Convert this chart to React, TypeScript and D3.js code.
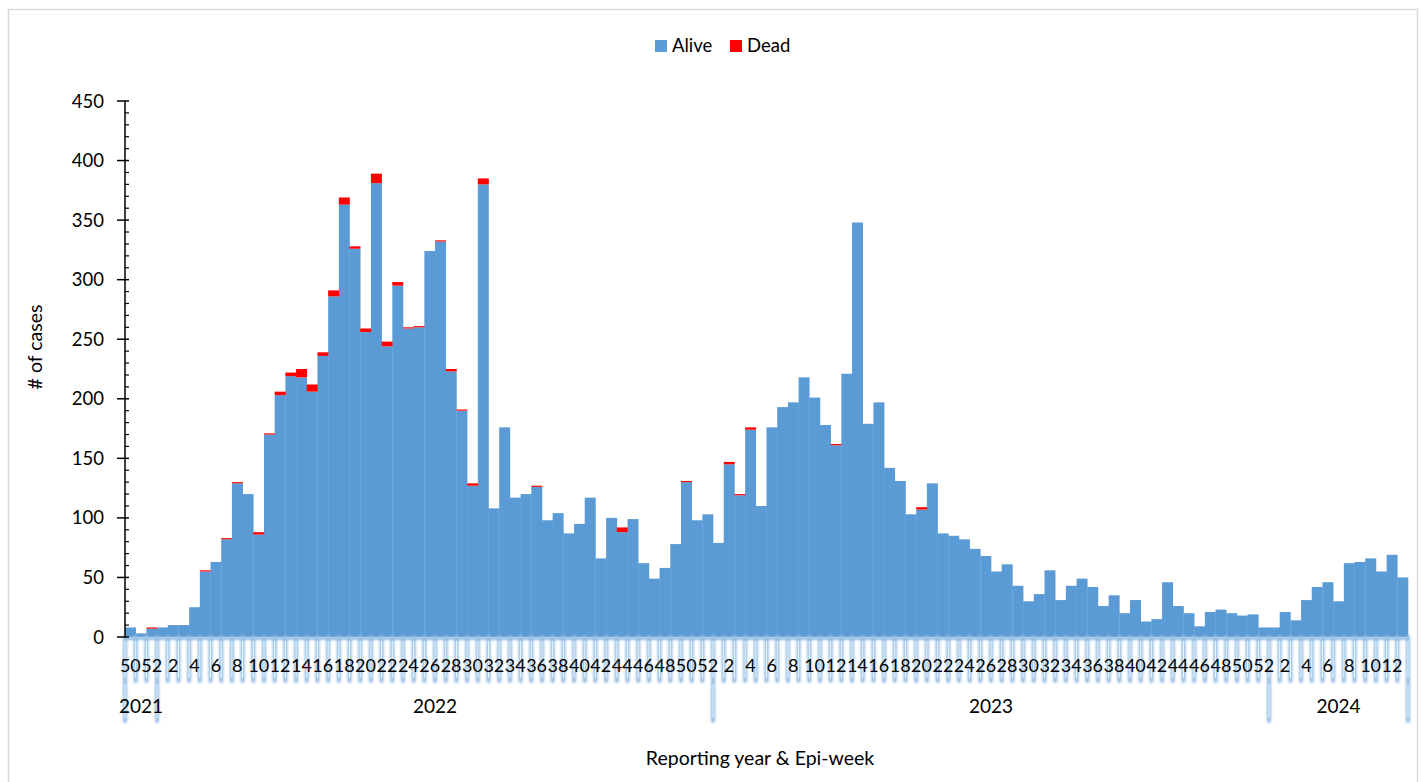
import React from "react";
import * as d3 from "d3";

const years = ["2021", "2022", "2023", "2024"];
const yearWeeks = [
  [50, 51, 52],
  d3.range(1, 53),
  d3.range(1, 53),
  d3.range(1, 14),
];

const alive2021 = [8, 3, 7];
const dead2021 = [0, 0, 1];

const alive2022 = [
  8, 10, 10, 25, 55, 63, 82, 129, 120, 86, 170, 203, 219, 218, 206, 236, 286, 363, 326, 256,
  381, 244, 295, 259, 260, 324, 332, 223, 190, 127, 380, 108, 176, 117, 120, 126, 98, 104, 87, 95,
  117, 66, 100, 88, 99, 62, 49, 58, 78, 130, 98, 103,
];
const dead2022 = [
  0, 0, 0, 0, 1, 0, 1, 1, 0, 2, 1, 3, 3, 7, 6, 3, 5, 6, 2, 3,
  8, 4, 3, 1, 1, 0, 1, 2, 1, 2, 5, 0, 0, 0, 0, 1, 0, 0, 0, 0,
  0, 0, 0, 4, 0, 0, 0, 0, 0, 1, 0, 0,
];

const alive2023 = [
  79, 145, 119, 174, 110, 176, 193, 197, 218, 201, 178, 161, 221, 348, 179, 197, 142, 131, 103, 107,
  129, 87, 85, 82, 74, 68, 55, 61, 43, 30, 36, 56, 31, 43, 49, 42, 26, 35, 20, 31,
  13, 15, 46, 26, 20, 9, 21, 23, 20, 18, 19, 8,
];
const dead2023 = [
  0, 2, 1, 2, 0, 0, 0, 0, 0, 0, 0, 1, 0, 0, 0, 0, 0, 0, 0, 2,
  0, 0, 0, 0, 0, 0, 0, 0, 0, 0, 0, 0, 0, 0, 0, 0, 0, 0, 0, 0,
  0, 0, 0, 0, 0, 0, 0, 0, 0, 0, 0, 0,
];

const alive2024 = [8, 21, 14, 31, 42, 46, 30, 62, 63, 66, 55, 69, 50];
const dead2024 = [0, 0, 0, 0, 0, 0, 0, 0, 0, 0, 0, 0, 0];

const yTicks = [0, 50, 100, 150, 200, 250, 300, 350, 400, 450];

const aliveAll = [alive2021, alive2022, alive2023, alive2024];
const deadAll = [dead2021, dead2022, dead2023, dead2024];

type Row = { key: string; year: string; week: number; alive: number; dead: number };
const rows: Row[] = [];
years.forEach((y, yi) => {
  yearWeeks[yi].forEach((w, wi) => {
    rows.push({ key: `${y}-${w}`, year: y, week: w, alive: aliveAll[yi][wi], dead: deadAll[yi][wi] });
  });
});

const W = 1421;
const H = 782;
const left = 125;
const right = 1408;
const top = 101;
const bottom = 637;
const FONT = "Lato, 'Open Sans', sans-serif";
const BLUE = "#5B9BD5";
const RED = "#FF0000";

export default function App() {
  const x = d3.scaleBand<string>().domain(rows.map((r) => r.key)).range([left, right]).padding(0);
  const y = d3.scaleLinear().domain([0, 450]).range([bottom, top]);
  const bw = x.bandwidth();

  const stack = d3.stack<Row>().keys(["alive", "dead"])(rows as any);

  const boundaries = d3.range(rows.length + 1).map((i) => left + i * bw);
  const yearStarts: number[] = [];
  let acc = 0;
  yearWeeks.forEach((wk) => {
    yearStarts.push(acc);
    acc += wk.length;
  });
  yearStarts.push(acc);

  const minorTicks = d3.range(0, 451, 10).filter((v) => v % 50 !== 0);

  return (
    <svg width={W} height={H} style={{ position: "absolute", left: 0, top: 0, background: "#fff" }} fontFamily={FONT}>
      <defs>
        <filter id="glow" x="-50%" y="-10%" width="200%" height="120%">
          <feGaussianBlur stdDeviation="0.9" />
        </filter>
      </defs>
      <rect x={0} y={0} width={W} height={H} fill="#fff" />
      <rect x={8.5} y={9.5} width={1409} height={790} fill="none" stroke="#D9D9D9" strokeWidth={1.5} />

      {/* legend */}
      <rect x={655} y={40} width={12} height={12} fill={BLUE} />
      <text x={672} y={52} fontSize={18.5} fill="#000">Alive</text>
      <rect x={730} y={40} width={12} height={12} fill={RED} />
      <text x={747} y={52} fontSize={18.5} fill="#000">Dead</text>

      {/* bars */}
      {stack.map((s, si) => (
        <g key={si} fill={si === 0 ? BLUE : RED}>
          {s.map((d, i) => {
            const h = y(d[0]) - y(d[1]);
            if (h <= 0) return null;
            return <rect key={i} x={x(rows[i].key)!} y={y(d[1])} width={bw + 0.3} height={h} />;
          })}
        </g>
      ))}

      {/* x axis glow ticks */}
      <g filter="url(#glow)">
        <line x1={left - 2} x2={right + 2} y1={638.5} y2={638.5} stroke="#8DB9E2" strokeWidth={3} />
        {boundaries.map((bx, i) => (
          <line key={i} x1={bx} x2={bx} y1={637} y2={681} stroke="#97C0E6" strokeWidth={4.2} strokeLinecap="round" />
        ))}
        {yearStarts.map((yi, i) => {
          const bx = left + yi * bw;
          return <line key={"y" + i} x1={bx} x2={bx} y1={680} y2={721} stroke="#97C0E6" strokeWidth={4.2} strokeLinecap="round" />;
        })}
      </g>
      <g>
        {boundaries.map((bx, i) => (
          <line key={i} x1={bx} x2={bx} y1={641} y2={678} stroke="#fff" strokeWidth={1} opacity={0.85} />
        ))}
        {yearStarts.map((yi, i) => {
          const bx = left + yi * bw;
          return <line key={"y" + i} x1={bx} x2={bx} y1={684} y2={718} stroke="#fff" strokeWidth={1} opacity={0.85} />;
        })}
      </g>

      {/* week labels */}
      {rows.map((r) =>
        r.week % 2 === 0 ? (
          <text key={r.key} x={x(r.key)! + bw / 2} y={672} fontSize={18} textAnchor="middle" fill="#000">
            {r.week}
          </text>
        ) : null
      )}
      {/* year labels */}
      {years.map((yr, i) => {
        const cx = left + ((yearStarts[i] + yearStarts[i + 1]) / 2) * bw;
        return (
          <text key={yr} x={cx} y={713} fontSize={19} textAnchor="middle" fill="#000">
            {yr}
          </text>
        );
      })}

      {/* y axis */}
      <line x1={left} x2={left} y1={top} y2={bottom} stroke="#000" strokeWidth={1.5} />
      {yTicks.map((t) => (
        <g key={t}>
          <line x1={117} x2={129} y1={y(t)} y2={y(t)} stroke="#000" strokeWidth={1.5} />
          <text x={104} y={y(t) + 6.5} fontSize={18.5} textAnchor="end" fill="#000">
            {t}
          </text>
        </g>
      ))}
      {minorTicks.map((t) => (
        <line key={t} x1={left} x2={129} y1={y(t)} y2={y(t)} stroke="#000" strokeWidth={1.2} />
      ))}

      <text transform={`translate(42,347) rotate(-90)`} fontSize={19.5} textAnchor="middle" fill="#000">
        # of cases
      </text>
      <text x={760} y={765} fontSize={19.5} textAnchor="middle" fill="#000">
        Reporting year &amp; Epi-week
      </text>
    </svg>
  );
}
